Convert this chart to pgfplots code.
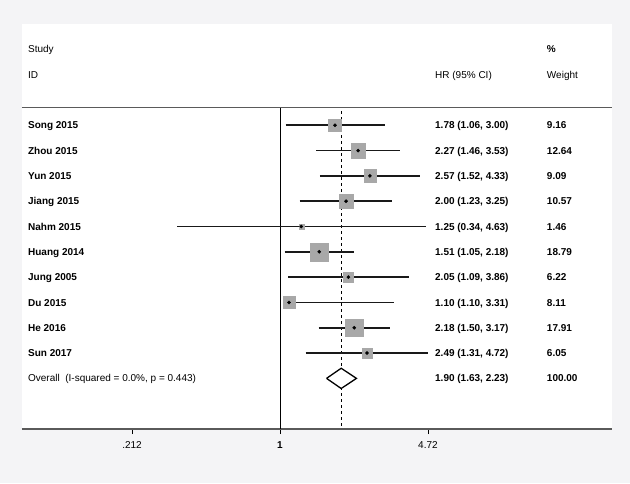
\documentclass[border=0pt]{standalone}
\usepackage{fontspec}
\setmainfont{Liberation Sans}
\usepackage{pgfplots}
\usepackage{pgfplotstable}
\pgfplotsset{compat=1.18}

\definecolor{bggray}{HTML}{F4F4F6}
\definecolor{boxgray}{HTML}{A8A8A8}
\definecolor{linegray}{HTML}{5A5A5A}

% row (from top), HR, lower, upper, weight
\pgfplotstableread{
row  hr    lo    hi    w
-1   1.78  1.06  3.00  9.16
-2   2.27  1.46  3.53  12.64
-3   2.57  1.52  4.33  9.09
-4   2.00  1.23  3.25  10.57
-5   1.25  0.34  4.63  1.46
-6   1.51  1.05  2.18  18.79
-7   2.05  1.09  3.86  6.22
-8   1.10  1.10  3.31  8.11
-9   2.18  1.50  3.17  17.91
-10  2.49  1.31  4.72  6.05
}\studies

\tikzset{lab/.style={anchor=base west, inner sep=0pt, yshift=-3.6pt}}

\begin{document}
\begin{tikzpicture}[font=\fontsize{10}{12}\selectfont]
\fill[bggray] (-22pt,-54pt) rectangle (608pt,429pt);
\begin{axis}[
  at={(0,0)}, anchor=south west,
  scale only axis, width=590pt, height=405pt,
  axis background/.style={fill=white},
  xmode=log, xmin=0.0669, xmax=32.5,
  ymin=-13, ymax=3,
  axis x line*=bottom, axis y line=none,
  x axis line style={linegray, line width=1.2pt, -},
  xtick={0.212,1,4.72}, xticklabels={.212,\textbf{1},4.72},
  xminorticks=false,
  tick align=outside, major tick length=5pt,
  tick style={black, line width=0.8pt},
  xticklabel style={font=\fontsize{10}{12}\selectfont, yshift=-4pt},
  clip=false,
]
% header rule and reference lines
\draw[linegray, line width=1.5pt] (axis cs:0.0669,-0.3) -- (axis cs:32.5,-0.3);
\draw[black, line width=0.8pt] (axis cs:1,-0.3) -- (axis cs:1,-13);
\addplot[black, line width=0.8pt, dash pattern=on 3pt off 3pt, mark=none]
  coordinates {(1.90,-0.45) (1.90,-13)};

% weight boxes
\addplot[scatter, only marks, mark=square*,
  scatter/use mapped color={draw=boxgray, fill=boxgray},
  visualization depends on={2.07*sqrt(\thisrow{w}) \as \msize},
  scatter/@pre marker code/.append style={/tikz/mark size=\msize}]
  table[x=hr, y=row] {\studies};

% confidence intervals, one segment per study
\pgfplotsinvokeforeach{0,...,9}{
  \pgfplotstablegetelem{#1}{row}\of\studies \let\cirow\pgfplotsretval
  \pgfplotstablegetelem{#1}{lo}\of\studies \let\cilo\pgfplotsretval
  \pgfplotstablegetelem{#1}{hi}\of\studies \let\cihi\pgfplotsretval
  \edef\ciplot{\noexpand\addplot[black!90, line width=1.8pt, mark=none]
    coordinates {(\cilo,\cirow) (\cihi,\cirow)};}
  \ciplot
}

% point estimates
\addplot[only marks, mark=*, mark size=1.6pt, black]
  table[x=hr, y=row] {\studies};

% overall diamond
\addplot[black, line width=1.3pt, line join=miter, fill=white]
  coordinates {(1.63,-11) (1.90,-10.6) (2.23,-11) (1.90,-11.4) (1.63,-11)};

% header text
\node[lab] at (axis cs:0.0712,2) {Study};
\node[lab] at (axis cs:0.0712,1) {ID};
\node[lab] at (axis cs:5.08,1) {HR (95\% CI)};
\node[lab] at (axis cs:16.4,2) {\textbf{\%}};
\node[lab] at (axis cs:16.4,1) {Weight};

% study rows
\node[lab] at (axis cs:0.0712,-1) {\textbf{Song 2015}};
\node[lab] at (axis cs:0.0712,-2) {\textbf{Zhou 2015}};
\node[lab] at (axis cs:0.0712,-3) {\textbf{Yun 2015}};
\node[lab] at (axis cs:0.0712,-4) {\textbf{Jiang 2015}};
\node[lab] at (axis cs:0.0712,-5) {\textbf{Nahm 2015}};
\node[lab] at (axis cs:0.0712,-6) {\textbf{Huang 2014}};
\node[lab] at (axis cs:0.0712,-7) {\textbf{Jung 2005}};
\node[lab] at (axis cs:0.0712,-8) {\textbf{Du 2015}};
\node[lab] at (axis cs:0.0712,-9) {\textbf{He 2016}};
\node[lab] at (axis cs:0.0712,-10) {\textbf{Sun 2017}};
\node[lab] at (axis cs:0.0712,-11) {Overall\ \ (I-squared = 0.0\%, p = 0.443)};

\node[lab] at (axis cs:5.08,-1) {\textbf{1.78 (1.06, 3.00)}};
\node[lab] at (axis cs:5.08,-2) {\textbf{2.27 (1.46, 3.53)}};
\node[lab] at (axis cs:5.08,-3) {\textbf{2.57 (1.52, 4.33)}};
\node[lab] at (axis cs:5.08,-4) {\textbf{2.00 (1.23, 3.25)}};
\node[lab] at (axis cs:5.08,-5) {\textbf{1.25 (0.34, 4.63)}};
\node[lab] at (axis cs:5.08,-6) {\textbf{1.51 (1.05, 2.18)}};
\node[lab] at (axis cs:5.08,-7) {\textbf{2.05 (1.09, 3.86)}};
\node[lab] at (axis cs:5.08,-8) {\textbf{1.10 (1.10, 3.31)}};
\node[lab] at (axis cs:5.08,-9) {\textbf{2.18 (1.50, 3.17)}};
\node[lab] at (axis cs:5.08,-10) {\textbf{2.49 (1.31, 4.72)}};
\node[lab] at (axis cs:5.08,-11) {\textbf{1.90 (1.63, 2.23)}};

\node[lab] at (axis cs:16.4,-1) {\textbf{9.16}};
\node[lab] at (axis cs:16.4,-2) {\textbf{12.64}};
\node[lab] at (axis cs:16.4,-3) {\textbf{9.09}};
\node[lab] at (axis cs:16.4,-4) {\textbf{10.57}};
\node[lab] at (axis cs:16.4,-5) {\textbf{1.46}};
\node[lab] at (axis cs:16.4,-6) {\textbf{18.79}};
\node[lab] at (axis cs:16.4,-7) {\textbf{6.22}};
\node[lab] at (axis cs:16.4,-8) {\textbf{8.11}};
\node[lab] at (axis cs:16.4,-9) {\textbf{17.91}};
\node[lab] at (axis cs:16.4,-10) {\textbf{6.05}};
\node[lab] at (axis cs:16.4,-11) {\textbf{100.00}};
\end{axis}
\end{tikzpicture}
\end{document}
